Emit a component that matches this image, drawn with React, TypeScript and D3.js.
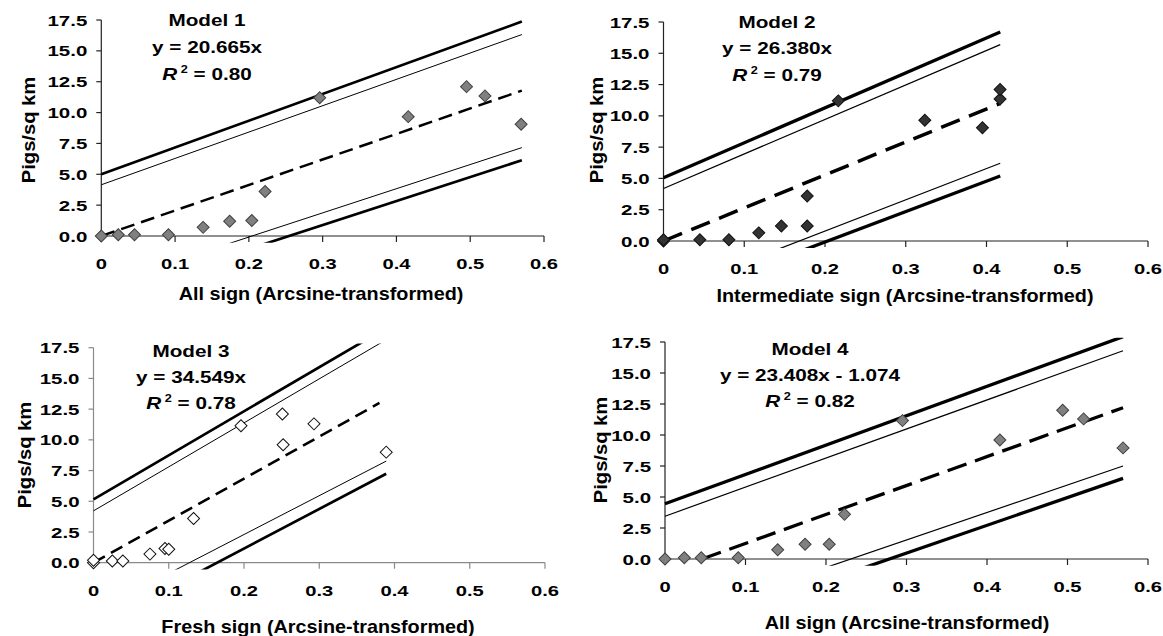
import * as d3 from 'd3';

// shared ticks
const xTicks = [0, 0.1, 0.2, 0.3, 0.4, 0.5, 0.6];
const yTicks = [0, 2.5, 5, 7.5, 10, 12.5, 15, 17.5];

// Model 1 - all sign
const m1X = [0, 0.023, 0.045, 0.091, 0.138, 0.174, 0.204, 0.222, 0.296, 0.416, 0.495, 0.52, 0.569];
const m1Y = [0, 0.1, 0.1, 0.1, 0.7, 1.2, 1.25, 3.6, 11.2, 9.67, 12.1, 11.35, 9.05];
const m1UpperPI = [[0, 5.0], [0.57, 17.37]];
const m1UpperCI = [[0, 4.15], [0.57, 16.32]];
const m1Fit = [[0, 0], [0.57, 11.78]];
const m1LowerCI = [[0, -4.0], [0.57, 7.16]];
const m1LowerPI = [[0, -4.95], [0.57, 6.14]];

// Model 2 - intermediate sign
const m2X = [0, 0, 0.045, 0.081, 0.118, 0.146, 0.178, 0.178, 0.2165, 0.3236, 0.395, 0.4168, 0.4168];
const m2Y = [0, 0.1, 0.1, 0.1, 0.65, 1.2, 1.2, 3.6, 11.2, 9.65, 9.05, 11.35, 12.1];
const m2UpperPI = [[0, 5.05], [0.417, 16.7]];
const m2UpperCI = [[0, 4.2], [0.417, 15.69]];
const m2Fit = [[0, 0], [0.417, 11.0]];
const m2LowerCI = [[0, -4.2], [0.417, 6.21]];
const m2LowerPI = [[0, -4.94], [0.417, 5.19]];

// Model 3 - fresh sign
const m3X = [0, 0, 0.025, 0.039, 0.075, 0.095, 0.1, 0.133, 0.196, 0.251, 0.252, 0.293, 0.389];
const m3Y = [0, 0.2, 0.14, 0.14, 0.7, 1.15, 1.1, 3.6, 11.15, 12.1, 9.6, 11.3, 9.0];
const m3UpperPI = [[0, 5.16], [0.389, 19.1]];
const m3UpperCI = [[0, 4.22], [0.389, 18.15]];
const m3Fit = [[0, 0], [0.38, 13.0]];
const m3LowerCI = [[0, -4.03], [0.389, 8.27]];
const m3LowerPI = [[0, -5.29], [0.389, 7.24]];

// Model 4 - all sign with intercept
const m4X = [0, 0.024, 0.045, 0.091, 0.14, 0.174, 0.204, 0.223, 0.295, 0.416, 0.494, 0.52, 0.569];
const m4Y = [0, 0.1, 0.1, 0.1, 0.74, 1.19, 1.19, 3.6, 11.16, 9.6, 12.0, 11.3, 8.96];
const m4UpperPI = [[0, 4.45], [0.569, 17.93]];
const m4UpperCI = [[0, 3.45], [0.569, 16.79]];
const m4Fit = [[0.046, 0], [0.569, 12.2]];
const m4LowerCI = [[0, -5.12], [0.569, 7.5]];
const m4LowerPI = [[0, -6.24], [0.569, 6.5]];

const FONT = "'Liberation Sans', Arial, sans-serif";

const panels = [
  {
    id: 'm1', title: 'Model 1', eq: 'y = 20.665x', r2: '0.80', xTitle: 'All sign (Arcsine-transformed)',
    xs: m1X, ys: m1Y, bands: [m1UpperPI, m1UpperCI, m1Fit, m1LowerCI, m1LowerPI],
    px: [101.3, 544], py: [236, 20], textX: 207, textY: [26, 53, 80], xTitleAt: [321, 300], yTitleAt: [35, 130],
    fill: '#808080', stroke: '#404040', axis: '#222', piW: 2.7, ciW: 1, fitW: 2.5, dash: '14,7',
  },
  {
    id: 'm2', title: 'Model 2', eq: 'y = 26.380x', r2: '0.79', xTitle: 'Intermediate sign (Arcsine-transformed)',
    xs: m2X, ys: m2Y, bands: [m2UpperPI, m2UpperCI, m2Fit, m2LowerCI, m2LowerPI],
    px: [663.5, 1148], py: [241, 22], textX: 777, textY: [28, 54, 81], xTitleAt: [905, 302], yTitleAt: [603, 130],
    fill: '#333333', stroke: '#111', axis: '#222', piW: 3.3, ciW: 1.2, fitW: 3.5, dash: '20,10',
  },
  {
    id: 'm3', title: 'Model 3', eq: 'y = 34.549x', r2: '0.78', xTitle: 'Fresh sign (Arcsine-transformed)',
    xs: m3X, ys: m3Y, bands: [m3UpperPI, m3UpperCI, m3Fit, m3LowerCI, m3LowerPI],
    px: [93.5, 545], py: [562.7, 347.7], textX: 191, textY: [356.7, 382.7, 409], xTitleAt: [318, 633], yTitleAt: [31, 455],
    fill: '#ffffff', stroke: '#111', axis: '#8a8a8a', piW: 2.7, ciW: 1, fitW: 2.6, dash: '13,7',
  },
  {
    id: 'm4', title: 'Model 4', eq: 'y = 23.408x - 1.074', r2: '0.82', xTitle: 'All sign (Arcsine-transformed)',
    xs: m4X, ys: m4Y, bands: [m4UpperPI, m4UpperCI, m4Fit, m4LowerCI, m4LowerPI],
    px: [665, 1148], py: [559, 342], textX: 810, textY: [355, 380.5, 407], xTitleAt: [907, 629], yTitleAt: [607, 450],
    fill: '#808080', stroke: '#404040', axis: '#222', piW: 3.3, ciW: 1.2, fitW: 3.3, dash: '20,9',
  },
];

const diamond = d3.symbol(d3.symbolSquare, 72)();

function Panel({ p }: { p: any }) {
  const x = d3.scaleLinear().domain([0, 0.6]).range(p.px);
  const y = d3.scaleLinear().domain([0, 17.5]).range(p.py);
  const line = d3.line<number[]>().x((d) => x(d[0])).y((d) => y(d[1]));
  const xFmt = (d: number) => (d === 0 ? '0' : d3.format('.1f')(d));
  const yFmt = d3.format('.1f');
  const clipTop = y(17.85);
  const clipBottom = y(-0.55);
  const bandStyle = [
    { w: p.piW, dash: undefined },
    { w: p.ciW, dash: undefined },
    { w: p.fitW, dash: p.dash },
    { w: p.ciW, dash: undefined },
    { w: p.piW, dash: undefined },
  ];

  return (
    <g>
      <defs>
        <clipPath id={`clip-${p.id}`}>
          <rect x={x(0) - 2} y={clipTop} width={x(0.6) - x(0) + 2} height={clipBottom - clipTop} />
        </clipPath>
      </defs>

      {/* axes */}
      <line x1={x(0)} x2={x(0.6)} y1={y(0)} y2={y(0)} stroke={p.axis} strokeWidth={1.2} />
      <line x1={x(0)} x2={x(0)} y1={y(0)} y2={y(17.5)} stroke={p.axis} strokeWidth={1.2} />
      {xTicks.map((t) => (
        <g key={`xt${t}`}>
          <line x1={x(t)} x2={x(t)} y1={y(0)} y2={y(0) + 6} stroke={p.axis} strokeWidth={1.2} />
          <text
            transform={`translate(${x(t)},${y(0) + 33}) scale(1.3,1)`}
            textAnchor="middle" fontSize={15.5} fontWeight="bold" fontFamily={FONT}
          >
            {xFmt(t)}
          </text>
        </g>
      ))}
      {yTicks.map((t) => (
        <g key={`yt${t}`}>
          <line x1={x(0) - 5} x2={x(0)} y1={y(t)} y2={y(t)} stroke={p.axis} strokeWidth={1.2} />
          <text
            transform={`translate(${x(0) - 14},${y(t)}) scale(1.32,1)`}
            textAnchor="end" dy="0.36em" fontSize={15.5} fontWeight="bold" fontFamily={FONT}
          >
            {yFmt(t)}
          </text>
        </g>
      ))}

      {/* regression + bands */}
      <g clipPath={`url(#clip-${p.id})`}>
        {p.bands.map((b: number[][], i: number) => (
          <path
            key={i} d={line(b) || ''} fill="none" stroke="#000"
            strokeWidth={bandStyle[i].w} strokeDasharray={bandStyle[i].dash}
          />
        ))}
      </g>

      {/* points */}
      {p.xs.map((v: number, i: number) => (
        <path
          key={`pt${i}`} d={diamond || ''}
          transform={`translate(${x(v)},${y(p.ys[i])}) rotate(45)`}
          fill={p.fill} stroke={p.stroke} strokeWidth={1}
        />
      ))}

      {/* annotation */}
      <g fontFamily={FONT} fontWeight="bold" fontSize={16.3}>
        <text transform={`translate(${p.textX},${p.textY[0]}) scale(1.27,1)`} textAnchor="middle">{p.title}</text>
        <text transform={`translate(${p.textX},${p.textY[1]}) scale(1.27,1)`} textAnchor="middle">{p.eq}</text>
        <text transform={`translate(${p.textX},${p.textY[2]}) scale(1.27,1)`} textAnchor="middle">
          <tspan fontStyle="italic">R</tspan>
          <tspan fontSize={10} dy={-7}> 2</tspan>
          <tspan dy={7}> = {p.r2}</tspan>
        </text>
      </g>

      {/* axis titles */}
      <text
        transform={`translate(${p.xTitleAt[0]},${p.xTitleAt[1]}) scale(1.1,1)`}
        textAnchor="middle" fontSize={18} fontWeight="bold" fontFamily={FONT}
      >
        {p.xTitle}
      </text>
      <text
        transform={`translate(${p.yTitleAt[0]},${p.yTitleAt[1]}) rotate(-90) scale(1.12,1)`}
        textAnchor="middle" fontSize={18} fontWeight="bold" fontFamily={FONT}
      >
        Pigs/sq km
      </text>
    </g>
  );
}

export default function App() {
  return (
    <svg
      width={1163} height={636}
      style={{ position: 'absolute', left: 0, top: 0, background: '#fff' }}
    >
      <rect width={1163} height={636} fill="#fff" />
      {panels.map((p) => (
        <Panel key={p.id} p={p} />
      ))}
    </svg>
  );
}
